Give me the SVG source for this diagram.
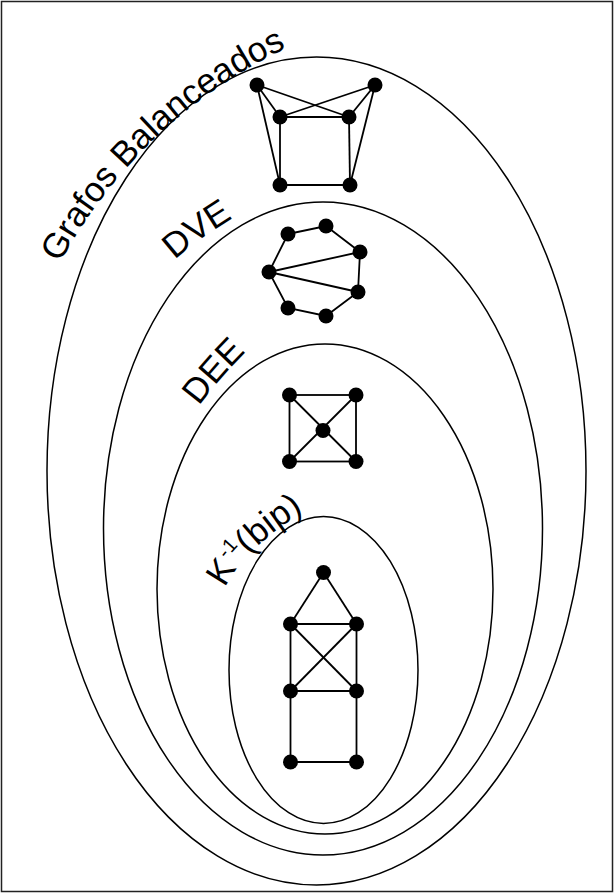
<svg xmlns="http://www.w3.org/2000/svg" width="615" height="894" viewBox="0 0 615 894">
<style>
.frame{fill:#fff;stroke:#222;stroke-width:1.5}
.set{fill:none;stroke:#000;stroke-width:1.5}
.edge{stroke:#000;stroke-width:1.8;fill:none}
.node{fill:#000}
.lbl{font-family:"Liberation Sans",Arial,sans-serif;font-size:35px;fill:#000}
</style>
<defs>
<path id="pG" d="M 60 263 A 500 500 0 0 1 330 30"/>
<path id="pDVE" d="M 175 260 Q 197 238 265 199"/>
<path id="pDEE" d="M 199 406 Q 228 367 265 334"/>
<path id="pK" d="M 225 588 Q 247 544 315 505"/>
</defs>
<rect class="frame" x="1.5" y="1.5" width="611" height="890"/>
<g id="sets">
<ellipse id="set-balanceados" class="set" cx="316.5" cy="471" rx="269.5" ry="414"/>
<ellipse id="set-dve" class="set" cx="323" cy="528.5" rx="219.5" ry="326.5"/>
<ellipse id="set-dee" class="set" cx="325" cy="589" rx="168" ry="245"/>
<ellipse id="set-kbip" class="set" cx="323.5" cy="670" rx="94.5" ry="153.5"/>
</g>
<g id="labels">
<text class="lbl" font-size="37.5"><textPath href="#pG">Grafos Balanceados</textPath></text>
<text class="lbl" font-size="36"><textPath href="#pDVE">DVE</textPath></text>
<text class="lbl"><textPath href="#pDEE">DEE</textPath></text>
<text class="lbl"><textPath href="#pK">K<tspan font-size="20" dy="-14">-1</tspan><tspan dy="14">(bip)</tspan></textPath></text>
</g>
<g id="connectors">
<line class="edge" x1="257" y1="85" x2="349" y2="117"/>
<line class="edge" x1="375" y1="85" x2="280" y2="117"/>
<line class="edge" x1="257" y1="85" x2="280" y2="117"/>
<line class="edge" x1="257" y1="85" x2="280" y2="185"/>
<line class="edge" x1="375" y1="85" x2="349" y2="117"/>
<line class="edge" x1="375" y1="85" x2="350" y2="185"/>
<line class="edge" x1="280" y1="117" x2="349" y2="117"/>
<line class="edge" x1="280" y1="117" x2="280" y2="185"/>
<line class="edge" x1="349" y1="117" x2="350" y2="185"/>
<line class="edge" x1="280" y1="185" x2="350" y2="185"/>
<polygon class="edge" points="288,234 326,226 360,252 358,292 326,316 288,308 269,272"/>
<line class="edge" x1="269" y1="272" x2="360" y2="252"/>
<line class="edge" x1="269" y1="272" x2="358" y2="292"/>
<rect class="edge" x="289.5" y="395" width="66.5" height="66.5"/>
<line class="edge" x1="289.5" y1="395" x2="356" y2="461.5"/>
<line class="edge" x1="356" y1="395" x2="289.5" y2="461.5"/>
<line class="edge" x1="323.5" y1="572.5" x2="290.5" y2="624"/>
<line class="edge" x1="323.5" y1="572.5" x2="356.5" y2="624"/>
<line class="edge" x1="290.5" y1="624" x2="356.5" y2="624"/>
<line class="edge" x1="290.5" y1="624" x2="290.5" y2="762"/>
<line class="edge" x1="356.5" y1="624" x2="356.5" y2="762"/>
<line class="edge" x1="290.5" y1="624" x2="356.5" y2="691"/>
<line class="edge" x1="356.5" y1="624" x2="290.5" y2="691"/>
<line class="edge" x1="290.5" y1="691" x2="356.5" y2="691"/>
<line class="edge" x1="290.5" y1="762" x2="356.5" y2="762"/>
</g>
<g id="graph-balanceado">
<circle class="node" cx="257" cy="85" r="7.5"/>
<circle class="node" cx="375" cy="85" r="7.5"/>
<circle class="node" cx="280" cy="117" r="7.5"/>
<circle class="node" cx="349" cy="117" r="7.5"/>
<circle class="node" cx="280" cy="185" r="7.5"/>
<circle class="node" cx="350" cy="185" r="7.5"/>
</g>
<g id="graph-dve">
<circle class="node" cx="288" cy="234" r="7.5"/>
<circle class="node" cx="326" cy="226" r="7.5"/>
<circle class="node" cx="360" cy="252" r="7.5"/>
<circle class="node" cx="358" cy="292" r="7.5"/>
<circle class="node" cx="326" cy="316" r="7.5"/>
<circle class="node" cx="288" cy="308" r="7.5"/>
<circle class="node" cx="269" cy="272" r="7.5"/>
</g>
<g id="graph-dee">
<circle class="node" cx="289.5" cy="395" r="7.5"/>
<circle class="node" cx="356" cy="395" r="7.5"/>
<circle class="node" cx="323" cy="430.5" r="7.5"/>
<circle class="node" cx="289.5" cy="461.5" r="7.5"/>
<circle class="node" cx="356" cy="461.5" r="7.5"/>
</g>
<g id="graph-kbip">
<circle class="node" cx="323.5" cy="572.5" r="7.5"/>
<circle class="node" cx="290.5" cy="624" r="7.5"/>
<circle class="node" cx="356.5" cy="624" r="7.5"/>
<circle class="node" cx="290.5" cy="691" r="7.5"/>
<circle class="node" cx="356.5" cy="691" r="7.5"/>
<circle class="node" cx="290.5" cy="762" r="7.5"/>
<circle class="node" cx="356.5" cy="762" r="7.5"/>
</g>
</svg>
